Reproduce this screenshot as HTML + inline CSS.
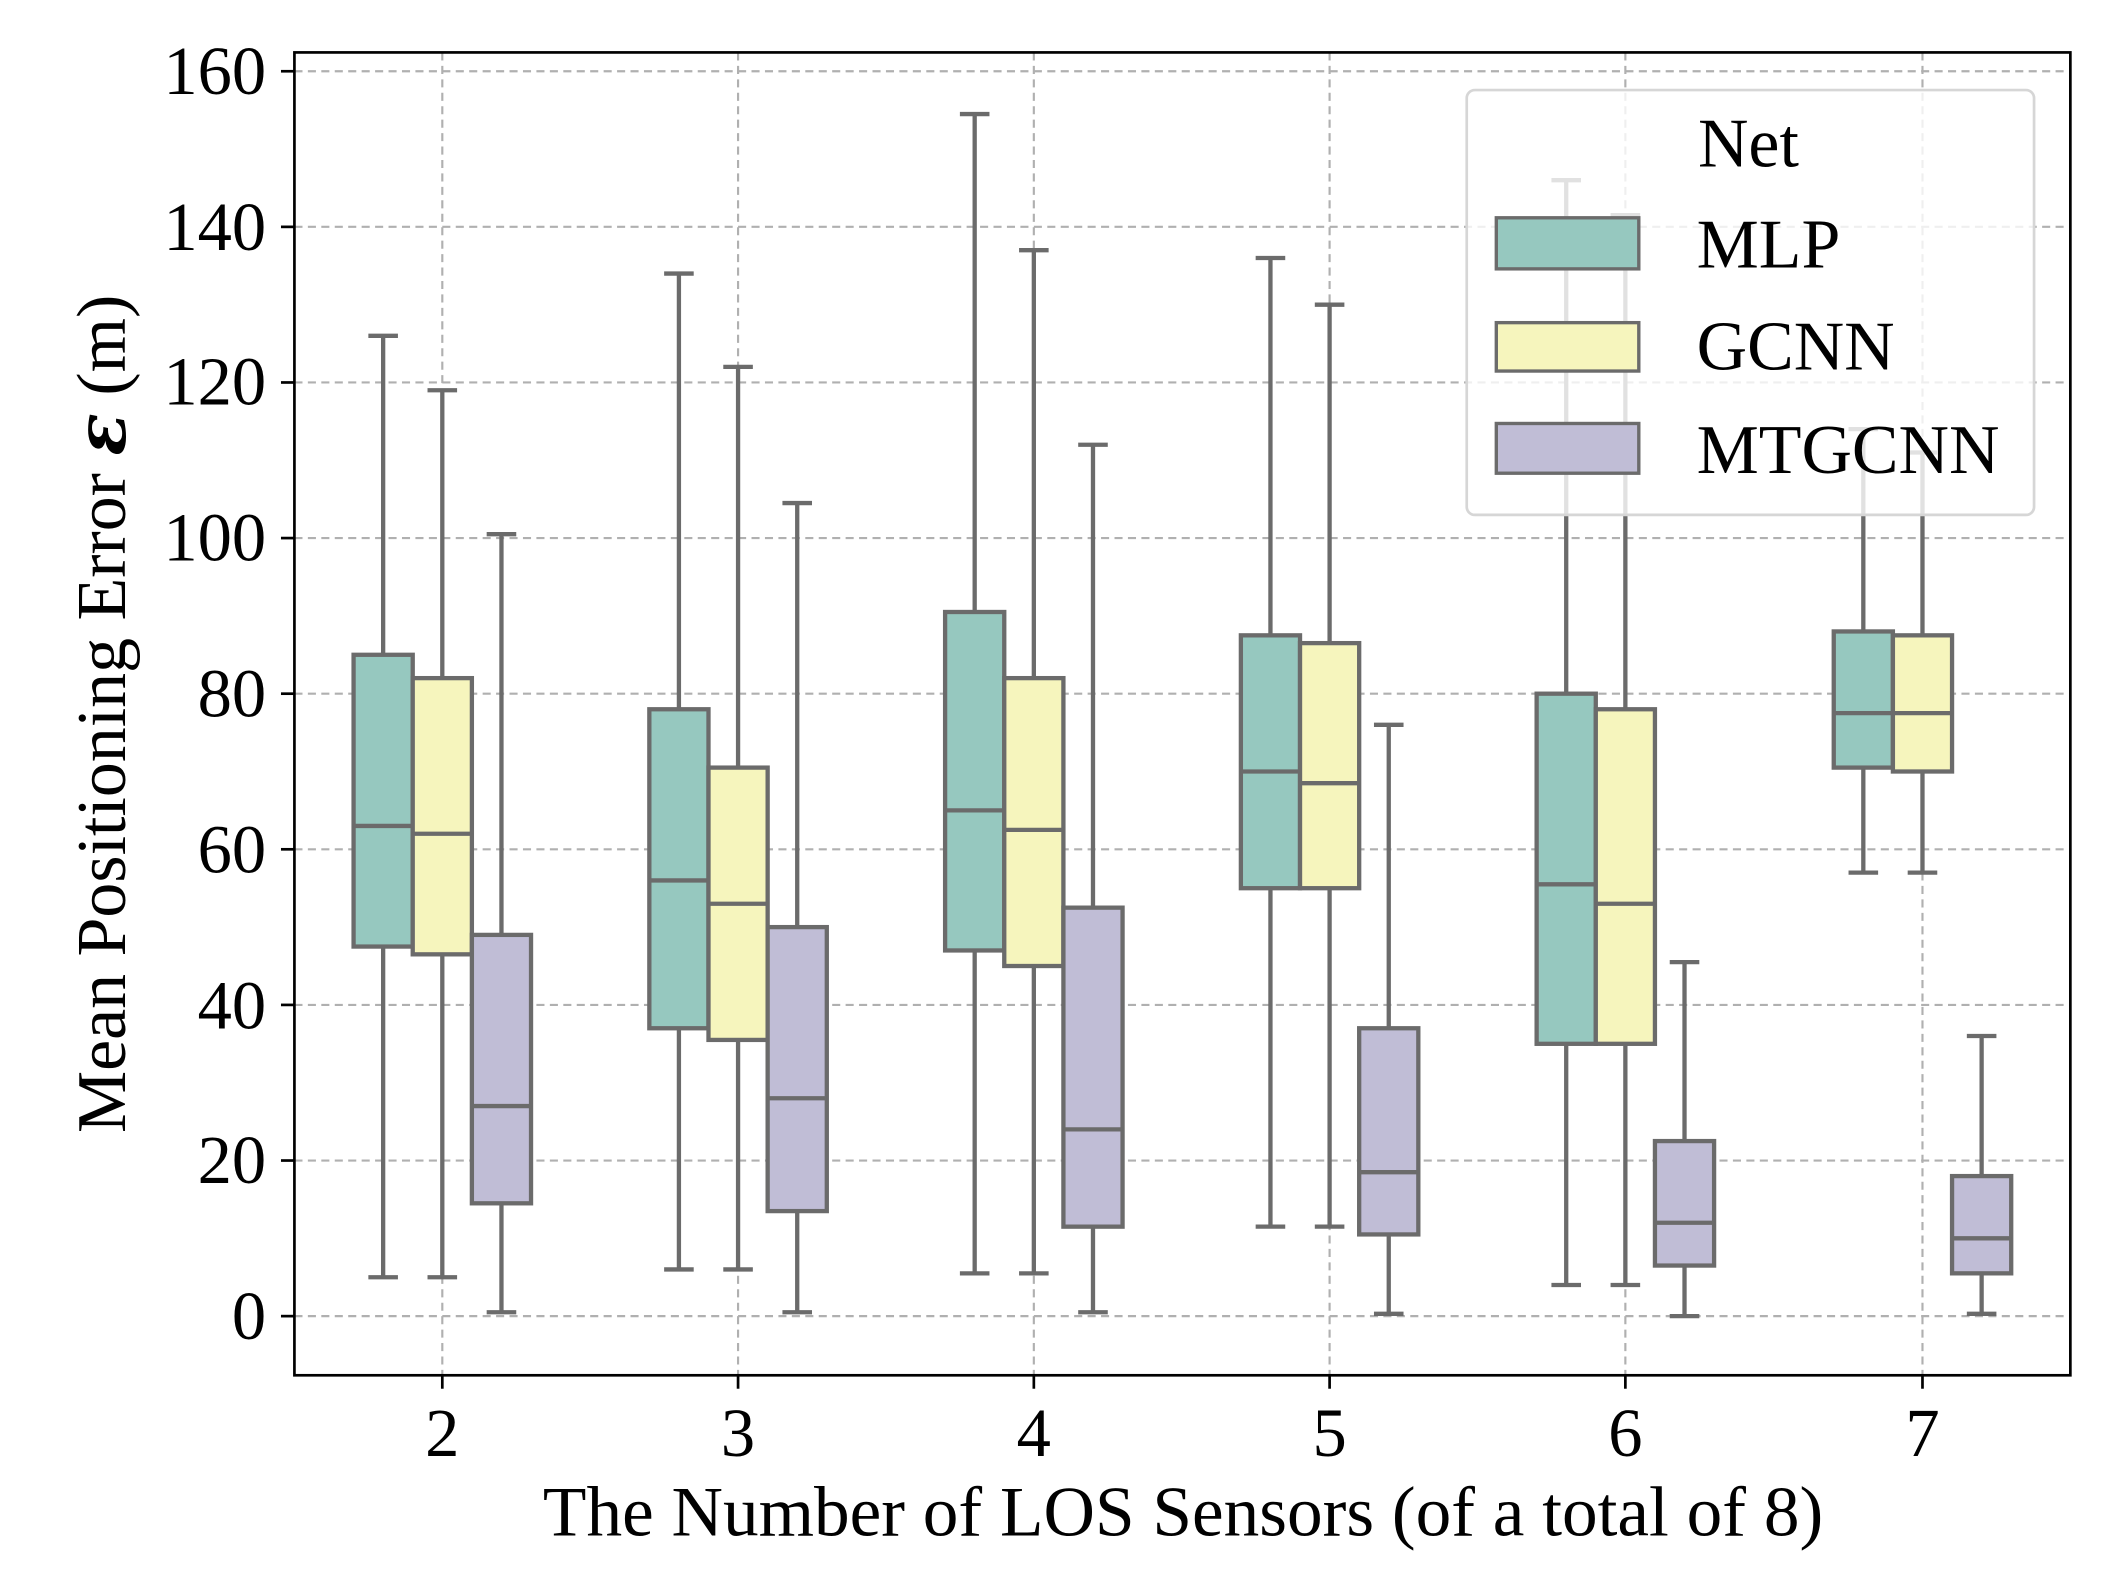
<!DOCTYPE html>
<html><head><meta charset="utf-8"><style>
html,body{margin:0;padding:0;background:#fff;}
svg{display:block;}
text{font-family:"Liberation Serif","DejaVu Serif",serif;fill:#000;}
</style></head><body>
<svg id="s" width="2108" height="1576" viewBox="0 0 1568 1172.3" preserveAspectRatio="none" xmlns="http://www.w3.org/2000/svg">
<rect x="0" y="0" width="1568" height="1173" fill="#fff"/>
<g id="grid" stroke="#b0b0b0" stroke-width="1.6" stroke-dasharray="6,4"></g>
<g id="boxes"></g>
<rect x="219" y="39" width="1321" height="984" fill="none" stroke="#000" stroke-width="2"/>
<g id="ticks" stroke="#000" stroke-width="2"></g>
<g font-size="51" text-anchor="end">
<text x="198" y="70">160</text><text x="198" y="186">140</text><text x="198" y="301">120</text>
<text x="198" y="417">100</text><text x="198" y="533">80</text><text x="198" y="649">60</text>
<text x="198" y="765">40</text><text x="198" y="880">20</text><text x="198" y="996">0</text>
</g>
<g font-size="51" text-anchor="middle">
<text x="329" y="1083">2</text><text x="549" y="1083">3</text><text x="769" y="1083">4</text>
<text x="989" y="1083">5</text><text x="1209" y="1083">6</text><text x="1430" y="1083">7</text>
</g>
<text x="880" y="1142" font-size="53" text-anchor="middle">The Number of LOS Sensors (of a total of 8)</text>
<text transform="translate(93,531) rotate(-90)" font-size="52" text-anchor="middle">Mean Positioning Error <tspan font-weight="bold" font-style="italic" font-family="DejaVu Serif,serif">ε</tspan> (m)</text>
<g id="legend">
<rect x="1091" y="67" width="422" height="316" rx="6" fill="rgba(255,255,255,0.8)" stroke="#d6d6d6" stroke-width="2"/>
<rect x="1113" y="162" width="106" height="38" fill="#96c8bf" stroke="#6b6b6b" stroke-width="2.5"/>
<rect x="1113" y="240" width="106" height="36" fill="#f6f5bd" stroke="#6b6b6b" stroke-width="2.5"/>
<rect x="1113" y="315" width="106" height="37" fill="#c0bdd6" stroke="#6b6b6b" stroke-width="2.5"/>
<text x="1263" y="124" font-size="52">Net</text>
<text x="1262" y="199" font-size="52">MLP</text>
<text x="1262" y="275" font-size="52">GCNN</text>
<text x="1262" y="352" font-size="52">MTGCNN</text>
</g>
</svg>
<script>
var ns="http://www.w3.org/2000/svg";
function y(v){return 979-5.7875*v;}
function el(p,t,a){var e=document.createElementNS(ns,t);for(var k in a)e.setAttribute(k,a[k]);p.appendChild(e);return e;}
var g=document.getElementById('grid'),tk=document.getElementById('ticks'),bx=document.getElementById('boxes');
var xs=[329,549,769,989,1209,1430];
for(var i=0;i<=8;i++){var yy=y(i*20);el(g,'line',{x1:219,x2:1540,y1:yy,y2:yy});el(tk,'line',{x1:209,x2:219,y1:yy,y2:yy});}
xs.forEach(function(x){el(g,'line',{x1:x,x2:x,y1:39,y2:1023});el(tk,'line',{x1:x,x2:x,y1:1023,y2:1033});});
var cols=['#96c8bf','#f6f5bd','#c0bdd6'];
var d=[
[[5,47.5,63,85,126],[5,46.5,62,82,119],[0.5,14.5,27,49,100.5]],
[[6,37,56,78,134],[6,35.5,53,70.5,122],[0.5,13.5,28,50,104.5]],
[[5.5,47,65,90.5,154.5],[5.5,45,62.5,82,137],[0.5,11.5,24,52.5,112]],
[[11.5,55,70,87.5,136],[11.5,55,68.5,86.5,130],[0.3,10.5,18.5,37,76]],
[[4,35,55.5,80,146],[4,35,53,78,141.5],[0,6.5,12,22.5,45.5]],
[[57,70.5,77.5,88,114],[57,70,77.5,87.5,111],[0.3,5.5,10,18,36]]];
var st={stroke:'#6b6b6b','stroke-width':3.2};
function L(x1,y1,x2,y2){var a={x1:x1,y1:y1,x2:x2,y2:y2};for(var k in st)a[k]=st[k];el(bx,'line',a);}
d.forEach(function(grp,gi){grp.forEach(function(b,j){var cx=xs[gi]+(j-1)*44;
L(cx,y(b[0]),cx,y(b[1]));L(cx,y(b[3]),cx,y(b[4]));
L(cx-11,y(b[0]),cx+11,y(b[0]));L(cx-11,y(b[4]),cx+11,y(b[4]));
el(bx,'rect',{x:cx-22,y:y(b[3]),width:44,height:y(b[1])-y(b[3]),fill:cols[j],stroke:'#6b6b6b','stroke-width':3.2});
L(cx-22,y(b[2]),cx+22,y(b[2]));});});
</script>
</body></html>
